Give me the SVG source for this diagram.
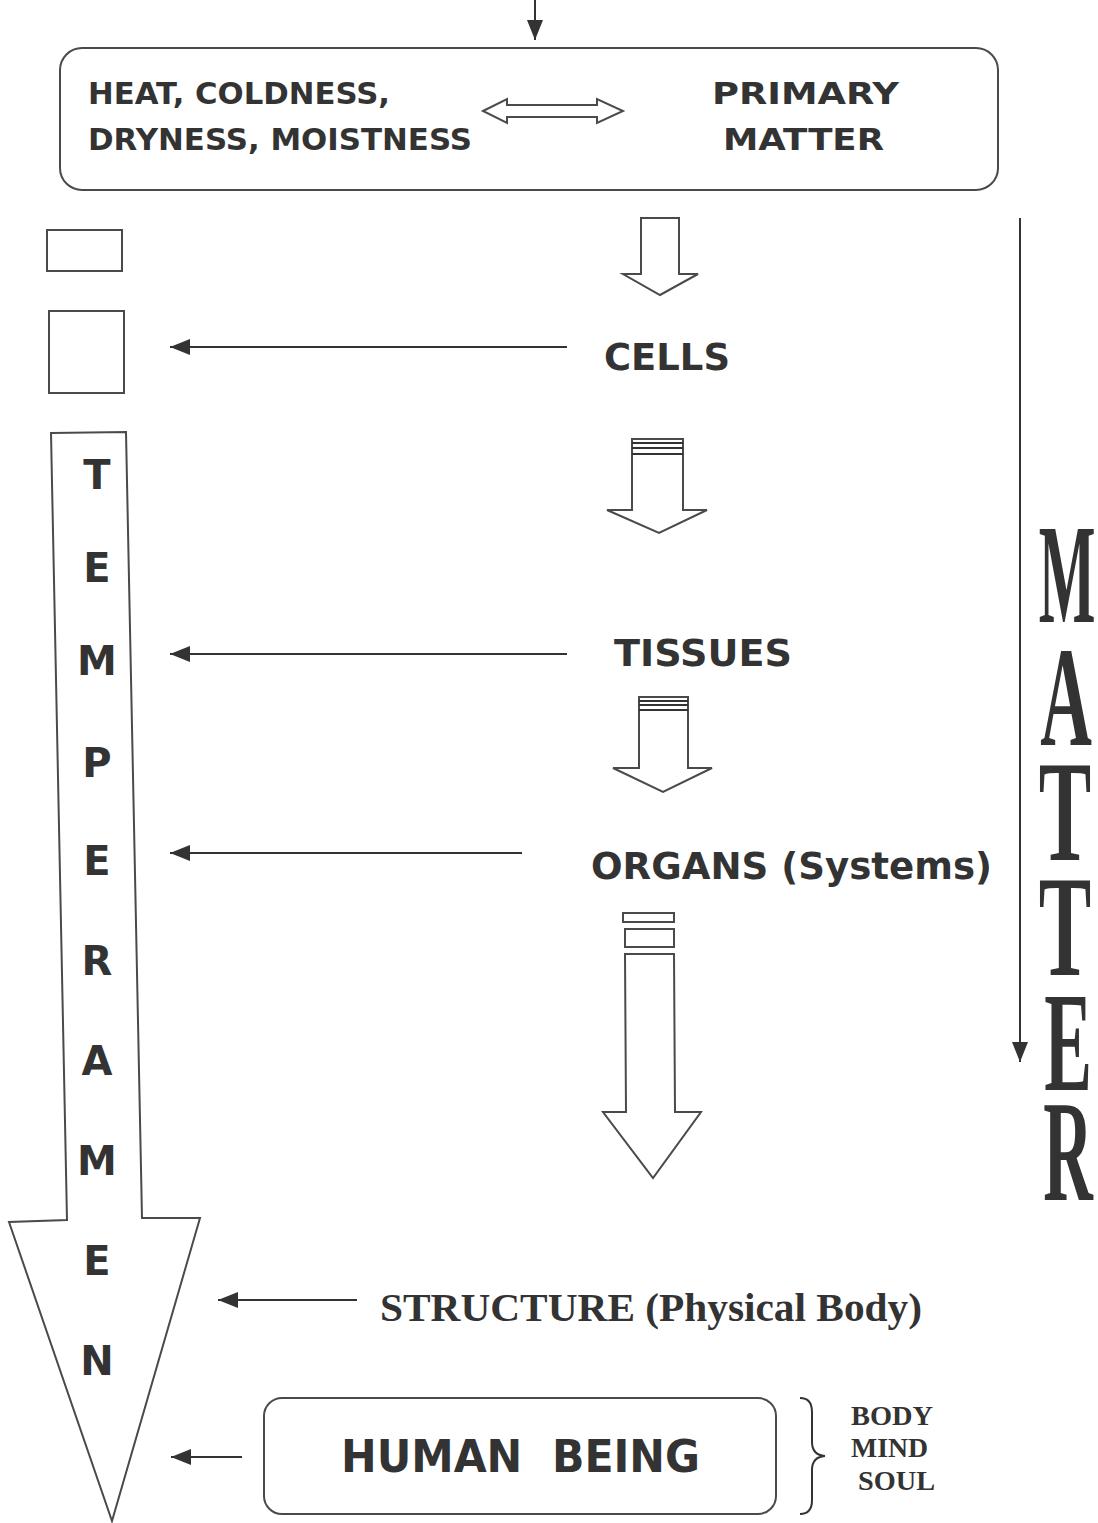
<svg xmlns="http://www.w3.org/2000/svg" width="1098" height="1523" viewBox="0 0 1098 1523">
<defs>
<style>
.bx{fill:none;stroke:#4a4a4a;stroke-width:2}
.ol{fill:#fff;stroke:#4a4a4a;stroke-width:2;stroke-linejoin:miter}
.ln{fill:none;stroke:#333;stroke-width:2}
.sans{font-family:"DejaVu Sans",Verdana,sans-serif;font-weight:bold;fill:#333}
.serif{font-family:"Liberation Serif","Times New Roman",serif;fill:#333}
.vl{font-family:"DejaVu Sans",Verdana,sans-serif;font-weight:bold;fill:#333;font-size:40px;text-anchor:middle}
.mt{font-family:"Liberation Serif","Times New Roman",serif;font-weight:bold;fill:#333;font-size:143px;text-anchor:middle}
</style>
<marker id="ah" viewBox="0 0 20 16" refX="20" refY="8" markerWidth="20" markerHeight="16" markerUnits="userSpaceOnUse" orient="auto">
<path d="M0,0 L20,8 L0,16 Z" fill="#333"/>
</marker>
</defs>
<rect width="1098" height="1523" fill="#fff"/>

<g id="connectors">
<line class="ln" x1="535" y1="0" x2="535" y2="40" marker-end="url(#ah)"/>
<line class="ln" x1="567" y1="347" x2="170" y2="347" marker-end="url(#ah)"/>
<line class="ln" x1="567" y1="654" x2="170" y2="654" marker-end="url(#ah)"/>
<line class="ln" x1="522" y1="853" x2="170" y2="853" marker-end="url(#ah)"/>
<line class="ln" x1="357" y1="1300" x2="218" y2="1300" marker-end="url(#ah)"/>
<line class="ln" x1="242" y1="1457" x2="171" y2="1457" marker-end="url(#ah)"/>
<line class="ln" x1="1020" y1="218" x2="1020" y2="1062" marker-end="url(#ah)"/>
<polygon class="ol" stroke-width="1.8" points="483,111 507,99 507,105 597,105 597,99 623,111 597,123 597,117 507,117 507,123"/>
<polygon class="ol" points="641,218 679,218 679,274 698,274 660,295 623,274 641,274"/>
<g id="arrow2">
<polygon class="ol" points="632,439 683,439 683,510 707,510 659,533 607,510 632,510"/>
<line class="ln" stroke="#555" x1="632" y1="443" x2="683" y2="443"/>
<line class="ln" stroke="#555" x1="632" y1="448" x2="683" y2="448"/>
<line class="ln" stroke="#555" x1="632" y1="454" x2="683" y2="454"/>
</g>
<g id="arrow3">
<polygon class="ol" points="639,697 688,697 688,768 712,768 663,792 613,768 639,768"/>
<line class="ln" stroke="#555" x1="639" y1="701" x2="688" y2="701"/>
<line class="ln" stroke="#555" x1="639" y1="705" x2="688" y2="705"/>
<line class="ln" stroke="#555" x1="639" y1="710" x2="688" y2="710"/>
</g>
<g id="arrow4">
<rect class="ol" x="623" y="913" width="51" height="9"/>
<rect class="ol" x="625" y="929" width="49" height="18"/>
<polygon class="ol" points="625,954 674,954 675,1112 701,1112 653,1178 603,1112 626,1112"/>
</g>
</g>

<g id="top-box">
<rect class="bx" x="60" y="48" width="938" height="142" rx="22"/>
<text class="sans" x="88" y="104" font-size="31" textLength="302" lengthAdjust="spacingAndGlyphs">HEAT, COLDNESS,</text>
<text class="sans" x="88" y="150" font-size="31" textLength="384" lengthAdjust="spacingAndGlyphs">DRYNESS, MOISTNESS</text>
<text class="sans" x="712" y="104" font-size="31" textLength="187" lengthAdjust="spacingAndGlyphs">PRIMARY</text>
<text class="sans" x="723" y="150" font-size="31" textLength="161" lengthAdjust="spacingAndGlyphs">MATTER</text>
</g>

<g id="small-box-1"><rect class="bx" x="47" y="230" width="75" height="41"/></g>
<g id="small-box-2"><rect class="bx" x="49" y="311" width="75" height="82"/></g>

<g id="cells"><text class="sans" x="604" y="370" font-size="38" textLength="126" lengthAdjust="spacingAndGlyphs">CELLS</text></g>
<g id="tissues"><text class="sans" x="614" y="666" font-size="38" textLength="178" lengthAdjust="spacingAndGlyphs">TISSUES</text></g>
<g id="organs"><text class="sans" x="591" y="879" font-size="38" textLength="401" lengthAdjust="spacingAndGlyphs">ORGANS (Systems)</text></g>

<g id="temperament">
<polygon class="ol" points="51,433 126,432 142,1218 200,1218 112,1521 9,1222 67,1220"/>
<text class="vl" x="97" y="489">T</text>
<text class="vl" x="97" y="582">E</text>
<text class="vl" x="97" y="675">M</text>
<text class="vl" x="97" y="777">P</text>
<text class="vl" x="97" y="875">E</text>
<text class="vl" x="97" y="975">R</text>
<text class="vl" x="97" y="1075">A</text>
<text class="vl" x="97" y="1175">M</text>
<text class="vl" x="97" y="1275">E</text>
<text class="vl" x="97" y="1375">N</text>
</g>

<g id="matter">
<text class="mt" transform="translate(1067,622) scale(0.42,1)">M</text>
<text class="mt" transform="translate(1066,745) scale(0.5,1)">A</text>
<text class="mt" transform="translate(1065,860) scale(0.55,1)">T</text>
<text class="mt" transform="translate(1065,975) scale(0.55,1)">T</text>
<text class="mt" transform="translate(1068,1090) scale(0.5,1)">E</text>
<text class="mt" transform="translate(1068,1200) scale(0.48,1)">R</text>
</g>

<g id="structure"><text class="serif" font-weight="bold" x="380" y="1321" font-size="41" textLength="542" lengthAdjust="spacingAndGlyphs">STRUCTURE (Physical Body)</text></g>

<g id="human-being">
<rect class="bx" x="264" y="1398" width="512" height="116" rx="18"/>
<text class="sans" x="341" y="1472" font-size="44" xml:space="preserve" textLength="359" lengthAdjust="spacingAndGlyphs">HUMAN  BEING</text>
</g>

<g id="brace">
<path class="ln" stroke-width="1.8" d="M800,1398 Q812,1398 812,1412 L812,1442 Q812,1455 825,1456 Q812,1457 812,1470 L812,1500 Q812,1514 800,1514"/>
<text class="serif" font-weight="bold" font-size="28" x="851" y="1425" textLength="82" lengthAdjust="spacingAndGlyphs">BODY</text>
<text class="serif" font-weight="bold" font-size="28" x="851" y="1457" textLength="77" lengthAdjust="spacingAndGlyphs">MIND</text>
<text class="serif" font-weight="bold" font-size="28" x="858" y="1490" textLength="77" lengthAdjust="spacingAndGlyphs">SOUL</text>
</g>
</svg>
